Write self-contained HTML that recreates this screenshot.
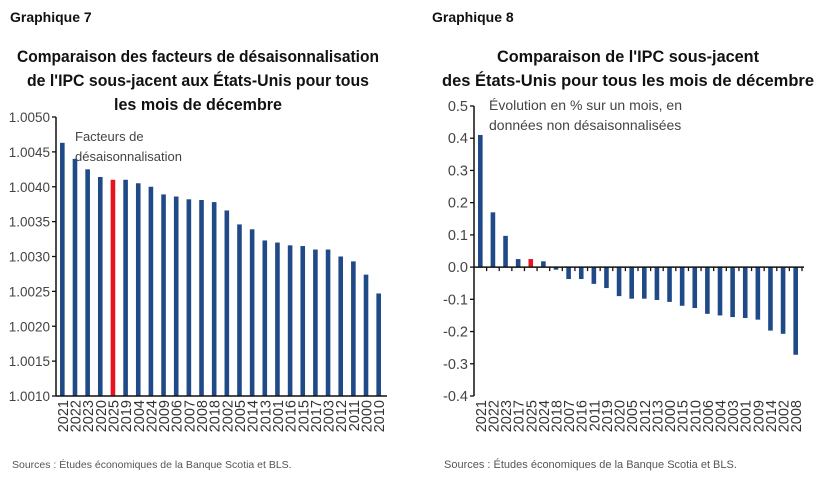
<!DOCTYPE html>
<html><head><meta charset="utf-8"><style>
html,body{margin:0;padding:0;background:#fff;}
svg{display:block;font-family:"Liberation Sans",sans-serif;}
</style></head><body>
<svg id="s" width="828" height="483" viewBox="0 0 828 483">
<text x="10" y="22" font-size="14" font-weight="bold" fill="#111">Graphique 7</text>
<text x="432" y="22" font-size="14" font-weight="bold" fill="#111">Graphique 8</text>
<g font-size="17" font-weight="bold" fill="#111" text-anchor="middle">
<text x="198" y="62" textLength="362" lengthAdjust="spacingAndGlyphs">Comparaison des facteurs de désaisonnalisation</text>
<text x="198" y="86" textLength="342" lengthAdjust="spacingAndGlyphs">de l'IPC sous-jacent aux États-Unis pour tous</text>
<text x="198" y="110" textLength="168" lengthAdjust="spacingAndGlyphs">les mois de décembre</text>
</g>
<g font-size="17" font-weight="bold" fill="#111" text-anchor="middle">
<text x="628" y="62" textLength="262" lengthAdjust="spacingAndGlyphs">Comparaison de l'IPC sous-jacent</text>
<text x="628" y="86" textLength="372" lengthAdjust="spacingAndGlyphs">des États-Unis pour tous les mois de décembre</text>
</g>
<text x="75" y="141" font-size="13" fill="#444">Facteurs de</text>
<text x="75" y="161" font-size="13" fill="#444">désaisonnalisation</text>
<text x="489" y="110" font-size="14" fill="#444">Évolution en % sur un mois, en</text>
<text x="489" y="130" font-size="14" fill="#444">données non désaisonnalisées</text>
<text x="12" y="468" font-size="10.5" fill="#555">Sources : Études économiques de la Banque Scotia et BLS.</text>
<text x="444" y="468" font-size="11" fill="#555">Sources : Études économiques de la Banque Scotia et BLS.</text>
<g id="c7"></g><g id="c8"></g>
</svg>
<script>
const cats7=["2021","2022","2023","2020","2025","2019","2004","2024","2009","2006","2007","2008","2018","2002","2005","2014","2013","2001","2016","2015","2017","2003","2012","2011","2000","2010"];
const vals7=[1.00463,1.00440,1.00425,1.00414,1.00410,1.00410,1.00405,1.00400,1.00389,1.00386,1.00382,1.00381,1.00378,1.00366,1.00346,1.00339,1.00323,1.00320,1.00316,1.00315,1.00310,1.00310,1.00300,1.00293,1.00274,1.00247];
const ticks7=["1.0010","1.0015","1.0020","1.0025","1.0030","1.0035","1.0040","1.0045","1.0050"];
const cats8=["2021","2022","2023","2017","2025","2024","2018","2007","2016","2011","2019","2020","2005","2012","2013","2000","2015","2010","2006","2004","2003","2001","2009","2014","2002","2008"];
const vals8=[0.41,0.17,0.097,0.025,0.025,0.018,-0.008,-0.037,-0.037,-0.052,-0.065,-0.09,-0.098,-0.098,-0.102,-0.108,-0.12,-0.127,-0.145,-0.15,-0.155,-0.158,-0.163,-0.197,-0.207,-0.272];
const ticks8=["0.5","0.4","0.3","0.2","0.1","0.0","-0.1","-0.2","-0.3","-0.4"];
const NS="http://www.w3.org/2000/svg";
function mk(p,t,a){const e=document.createElementNS(NS,t);for(const k in a)e.setAttribute(k,a[k]);p.appendChild(e);return e;}
function chart(g,cats,vals,ticks,o){
 const y=v=>o.y0+(v-o.vmin)/(o.vmax-o.vmin)*(o.y1-o.y0);
 const bw=(o.xr-o.xl)/cats.length;
 ticks.forEach(t=>{const v=parseFloat(t);
  const tx=mk(g,"text",{x:o.xl-6,y:y(v)+5,"font-size":o.yfs,fill:"#444","text-anchor":"end"});tx.textContent=t;
  
  
  const tl=mk(g,"line",{x1:o.xl-4,x2:o.xl,y1:y(v),y2:y(v),stroke:"#111","stroke-width":1.3});
  
  
 });
 const base=y(o.base);
 cats.forEach((c,i)=>{const cx=o.xl+bw*(i+0.5);const v=vals[i];
  const yt=y(v);const top=Math.min(yt,base),h=Math.abs(yt-base);
  const r=mk(g,"rect",{x:cx-2.3,y:top,width:4.6,height:Math.max(h,0.8),fill:c==="2025"?"#e8131f":"#1f4a87"});
  
  
  const lx=cx+5.5,ly=o.labY;
  const t=mk(g,"text",{x:lx,y:ly,"font-size":14.5,fill:"#333","text-anchor":"end",transform:`rotate(-90 ${lx} ${ly})`});t.textContent=c;
  
  
  if(o.xticks){const tk=mk(g,"line",{x1:o.xl+bw*(i+1),x2:o.xl+bw*(i+1),y1:base,y2:base+4,stroke:"#111","stroke-width":1.3});
   
   }
 });
 const ya=mk(g,"line",{x1:o.xl,x2:o.xl,y1:o.y1,y2:o.y0,stroke:"#111","stroke-width":1.5});
 
 
 const xa=mk(g,"line",{x1:o.xl,x2:o.xr+2,y1:base,y2:base,stroke:"#111","stroke-width":1.5});
 
 
}
chart(document.getElementById("c7"),cats7,vals7,ticks7,{xl:56,xr:385,y0:396,y1:117,vmin:1.0010,vmax:1.0050,base:1.0010,labY:400,xticks:false,yfs:13.5});
chart(document.getElementById("c8"),cats8,vals8,ticks8,{xl:474,xr:802,y0:396,y1:106,vmin:-0.4,vmax:0.5,base:0,labY:400,xticks:true,yfs:14.5});
</script>
</body></html>
